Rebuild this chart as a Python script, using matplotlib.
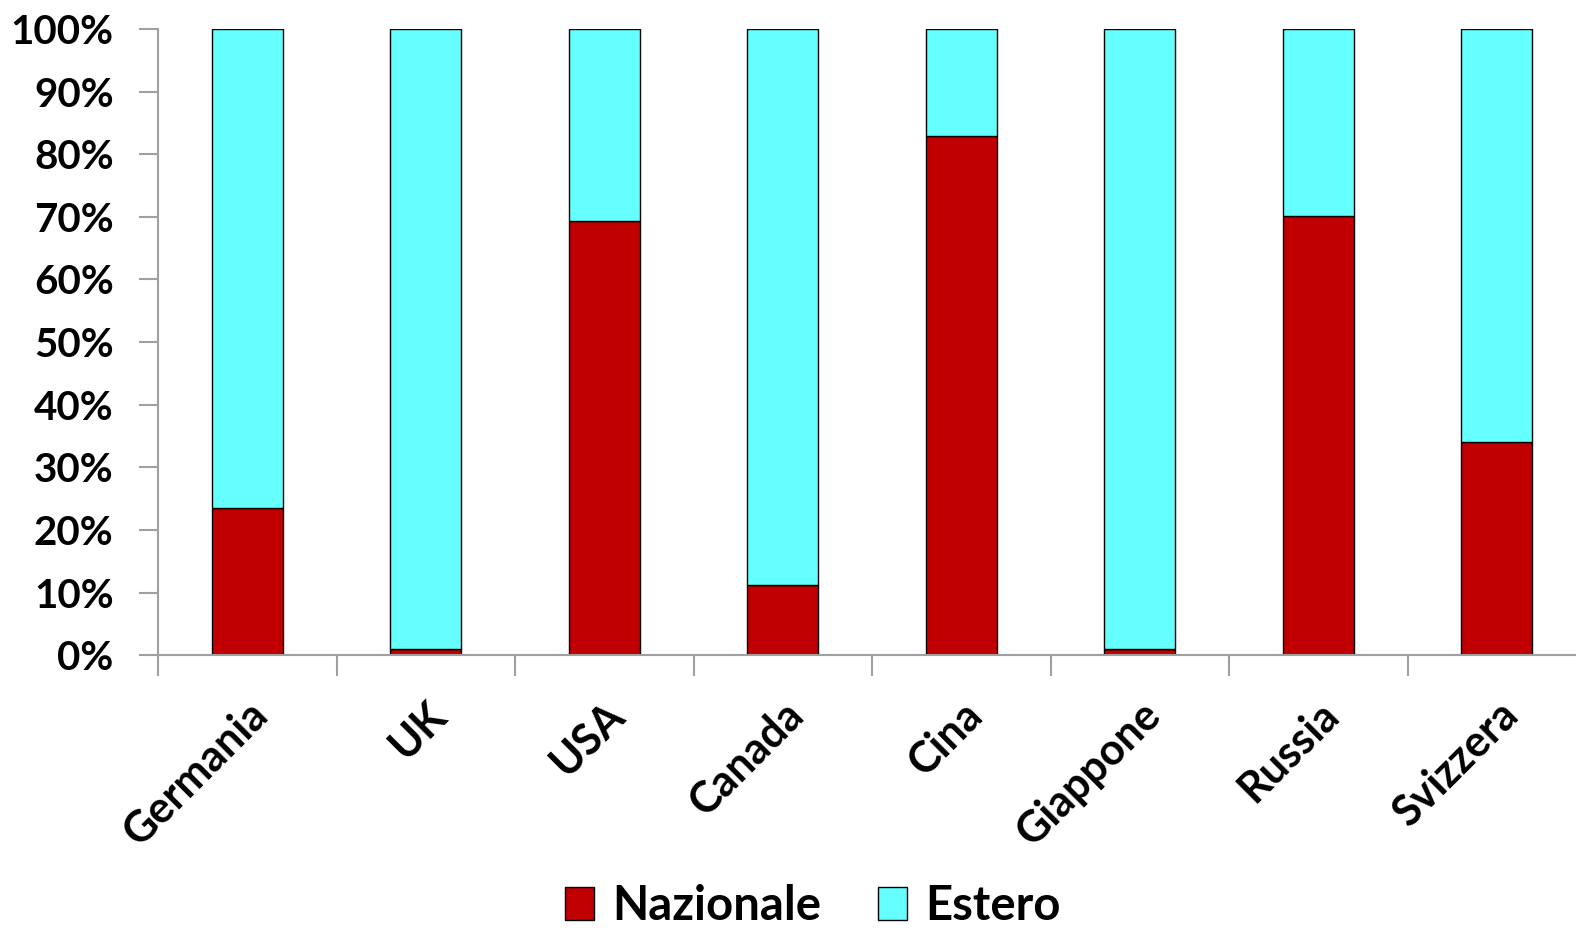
import matplotlib
matplotlib.use("Agg")
import matplotlib.pyplot as plt
from matplotlib.ticker import FixedLocator
from matplotlib.patches import Patch

paesi = ["Germania", "UK", "USA", "Canada", "Cina", "Giappone", "Russia", "Svizzera"]
nazionale = [23.6, 1.1, 69.3, 11.2, 82.9, 1.1, 70.1, 34.0]
estero = [100 - v for v in nazionale]

rosso = "#c00000"
ciano = "#66ffff"
grigio = "#a0a0a0"

plt.rcParams['font.family'] = ['Lato', 'DejaVu Sans']
plt.rcParams['font.weight'] = 'bold'

fig = plt.figure(figsize=(15.76, 9.31), dpi=100)
ax = fig.add_axes([158 / 1576, 0.296, 1 - 158 / 1576, 0.969 - 0.296])

x = list(range(len(paesi)))
ax.bar(x, nazionale, width=0.4, color=rosso, edgecolor="black", linewidth=1)
ax.bar(x, estero, width=0.4, bottom=nazionale, color=ciano, edgecolor="black", linewidth=1)

ax.set_xlim(-0.5, -0.5 + (1576 - 158) / 178.5)
ax.set_ylim(0, 100)

for s in ["top", "right"]:
    ax.spines[s].set_visible(False)
for s in ["left", "bottom"]:
    ax.spines[s].set_color(grigio)
    ax.spines[s].set_linewidth(1.5)

ax.set_yticks(range(0, 101, 10))
ax.set_yticklabels([f"{v}%" for v in range(0, 101, 10)], fontsize=29, fontweight="bold")
ax.tick_params(axis="y", length=14, width=1.5, color=grigio, pad=18)

ax.set_xticks(x)
ax.set_xticklabels(paesi, rotation=45, ha="right", rotation_mode="anchor",
                   fontsize=31, fontweight="bold")
ax.xaxis.set_minor_locator(FixedLocator([i - 0.5 for i in range(len(paesi) + 1)]))
ax.tick_params(axis="x", which="major", length=0, pad=28)
ax.tick_params(axis="x", which="minor", length=15, width=1.5, color=grigio)

handles = [Patch(facecolor=rosso, edgecolor="black", label="Nazionale"),
           Patch(facecolor=ciano, edgecolor="black", label="Estero")]
fig.legend(handles=handles, loc="center", bbox_to_anchor=(0.516, 0.027), ncol=2,
           frameon=False, prop={"size": 34, "weight": "bold"}, borderpad=0,
           handlelength=0.6, handleheight=0.7, handletextpad=0.4, columnspacing=1.2)

fig.savefig("out.png", dpi=100)
